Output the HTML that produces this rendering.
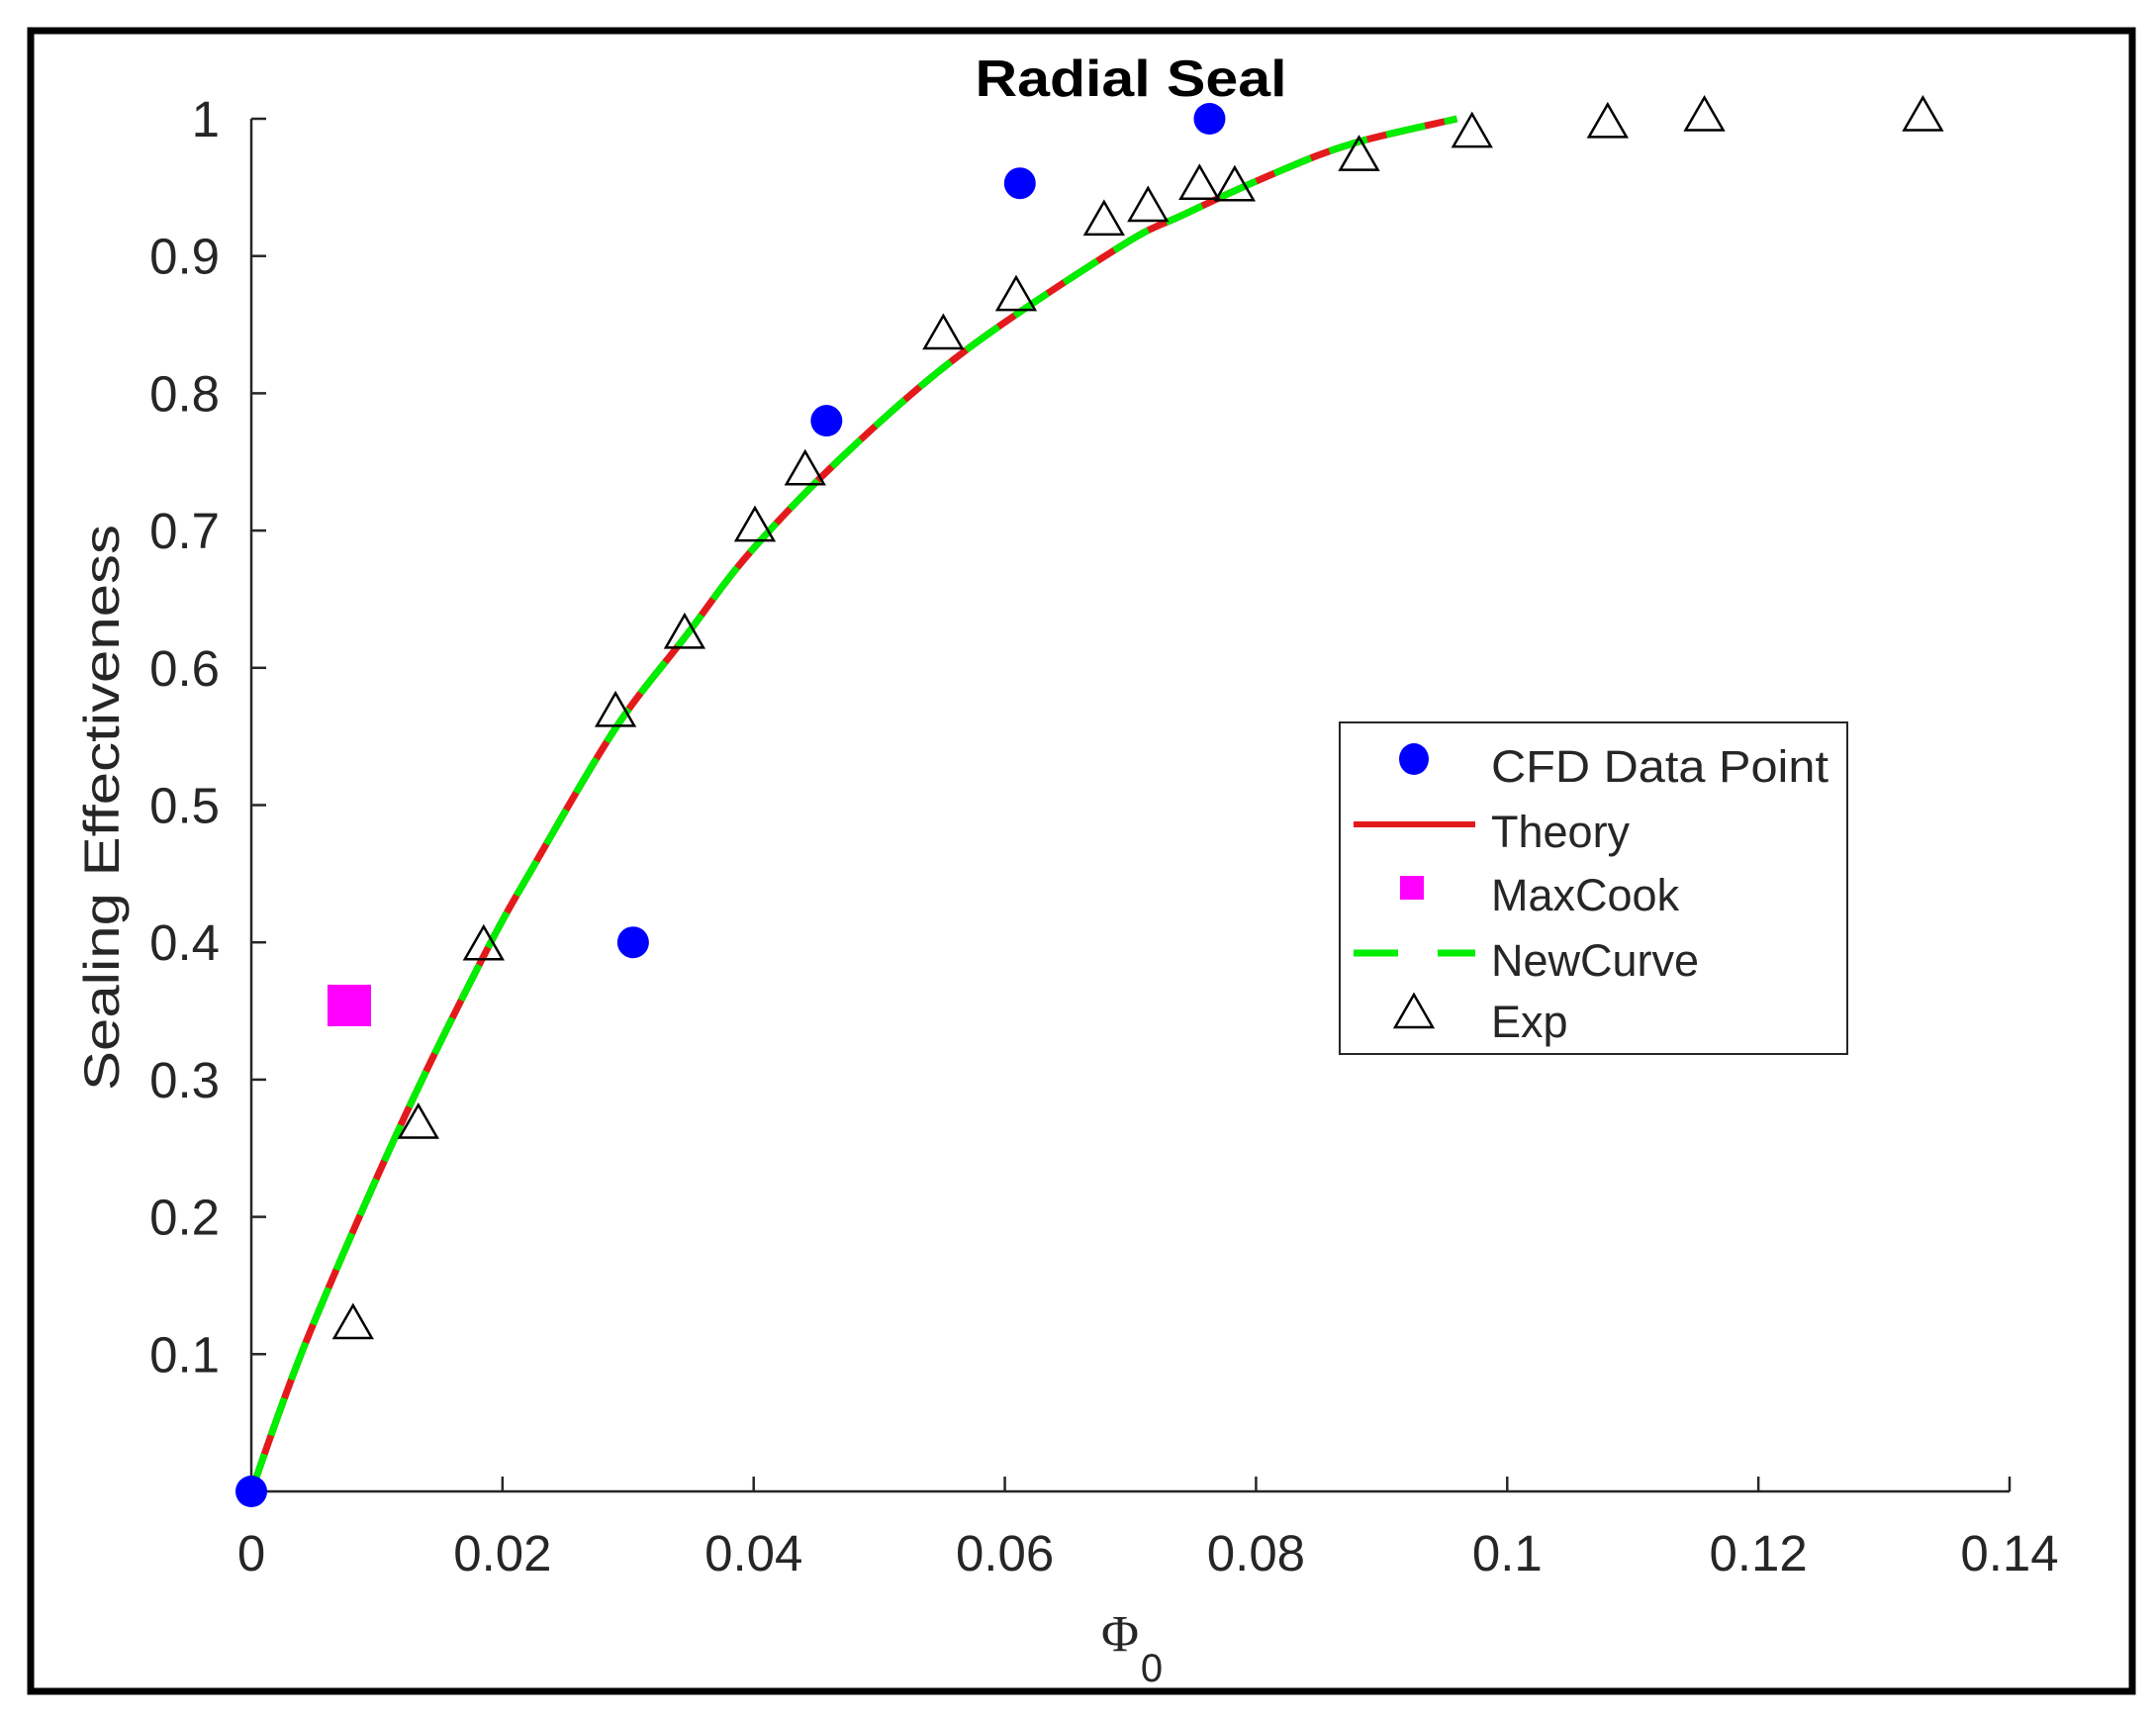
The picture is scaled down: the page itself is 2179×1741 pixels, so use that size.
<!DOCTYPE html>
<html><head><meta charset="utf-8"><style>
html,body{margin:0;padding:0;background:#fff}
svg{display:block}
text{font-family:"Liberation Sans",Arial,sans-serif;fill:#262626}
</style></head><body>
<svg id="chart" width="2179" height="1741" viewBox="0 0 2179 1741" xmlns="http://www.w3.org/2000/svg">
<rect x="0" y="0" width="2179" height="1741" fill="#fff"/>
<rect x="31" y="31" width="2124" height="1678" fill="none" stroke="#000" stroke-width="7"/>
<text x="1143" y="97" text-anchor="middle" font-size="52" font-weight="bold" style="fill:#000" textLength="315" lengthAdjust="spacingAndGlyphs">Radial Seal</text>
<g id="axes"></g>
<g id="marks"></g>
<text transform="translate(120,816) rotate(-90)" text-anchor="middle" font-size="50" textLength="572" lengthAdjust="spacingAndGlyphs">Sealing Effectiveness</text>
<g>
<text x="1132" y="1668" text-anchor="middle" font-size="52" style="font-family:'Liberation Serif',serif">Φ</text>
<text x="1164" y="1699" text-anchor="middle" font-size="40">0</text>
</g>
<g>
<rect x="1354" y="730" width="513" height="335" fill="#fff" stroke="#262626" stroke-width="2"/>
<g><ellipse cx="1429" cy="767" rx="15" ry="16" fill="#0000ff"/><text x="1507" y="790" font-size="45" textLength="341" lengthAdjust="spacingAndGlyphs">CFD Data Point</text></g>
<g><line x1="1368" y1="833" x2="1491" y2="833" stroke="#e31a1c" stroke-width="6"/><text x="1507" y="856" font-size="45">Theory</text></g>
<g><rect x="1415" y="885" width="24" height="24" fill="#ff00ff"/><text x="1507" y="920" font-size="45">MaxCook</text></g>
<g><line x1="1368" y1="963" x2="1491" y2="963" stroke="#00ee00" stroke-width="7" stroke-dasharray="45 40"/><text x="1507" y="986" font-size="45">NewCurve</text></g>
<g><polygon points="1429,1005 1410,1038 1448,1038" fill="none" stroke="#000" stroke-width="2.5"/><text x="1507" y="1048" font-size="45">Exp</text></g>
</g>
</svg>
<script>
const xTicks=[0,0.02,0.04,0.06,0.08,0.1,0.12,0.14];
const xTickLabels=["0","0.02","0.04","0.06","0.08","0.1","0.12","0.14"];
const yTicks=[0.1,0.2,0.3,0.4,0.5,0.6,0.7,0.8,0.9,1];
const yTickLabels=["0.1","0.2","0.3","0.4","0.5","0.6","0.7","0.8","0.9","1"];
const cfdX=[0,0.0304,0.0458,0.0612,0.0763];
const cfdY=[0,0.40,0.78,0.953,1.0];
const maxCookX=[0.0078];
const maxCookY=[0.354];
const theoryX=[0,0.0044,0.0118,0.0185,0.0227,0.029,0.0345,0.0397,0.0472,0.0567,0.0692,0.0742,0.0814,0.0877,0.096];
const theoryY=[0,0.11,0.265,0.39,0.459,0.556,0.622,0.684,0.755,0.83,0.907,0.93,0.96,0.982,1.0];
const expX=[0.0081,0.0133,0.0185,0.029,0.0345,0.0401,0.0441,0.0551,0.0609,0.0679,0.0714,0.0755,0.0783,0.0882,0.0972,0.108,0.1157,0.1331];
const expY=[0.124,0.27,0.40,0.57,0.627,0.705,0.746,0.845,0.873,0.928,0.938,0.954,0.953,0.975,0.992,0.999,1.004,1.004];

const X0=254,X1=2031,Y0=1507,Y1=120;
const xs=v=>X0+(v-0)/(0.14)*(X1-X0);
const ys=v=>Y0-(v-0)/(1)*(Y0-Y1);
const NS="http://www.w3.org/2000/svg";
function mk(tag,attrs,parent){const e=document.createElementNS(NS,tag);for(const k in attrs)e.setAttribute(k,attrs[k]);parent.appendChild(e);return e;}
const axes=document.getElementById('axes');
const marks=document.getElementById('marks');

const xAxis=mk('line',{x1:X0,y1:Y0,x2:X1,y2:Y0,stroke:'#262626','stroke-width':2.5},axes);


const yAxis=mk('line',{x1:X0,y1:Y0,x2:X0,y2:Y1,stroke:'#262626','stroke-width':2.5},axes);


xTicks.forEach((t,i)=>{
  const x=xs(t);
  const tk=mk('line',{x1:x,y1:Y0,x2:x,y2:Y0-15,stroke:'#262626','stroke-width':2.5},axes);
  
  
  const lb=mk('text',{x:x,y:1587,'text-anchor':'middle','font-size':51},axes);
  lb.textContent=xTickLabels[i];
  
  
});
yTicks.forEach((t,i)=>{
  const y=ys(t);
  const tk=mk('line',{x1:X0,y1:y,x2:X0+15,y2:y,stroke:'#262626','stroke-width':2.5},axes);
  
  
  const lb=mk('text',{x:222,y:y+18,'text-anchor':'end','font-size':51},axes);
  lb.textContent=yTickLabels[i];
  
  
});

function smoothPath(px,py){
  const p=px.map((v,i)=>[xs(v),ys(py[i])]);
  let d='M'+p[0][0]+','+p[0][1];
  for(let i=0;i<p.length-1;i++){
    const p0=p[i-1]||p[i],p1=p[i],p2=p[i+1],p3=p[i+2]||p2;
    const c1=[p1[0]+(p2[0]-p0[0])/6,p1[1]+(p2[1]-p0[1])/6];
    const c2=[p2[0]-(p3[0]-p1[0])/6,p2[1]-(p3[1]-p1[1])/6];
    d+=' C'+c1[0]+','+c1[1]+' '+c2[0]+','+c2[1]+' '+p2[0]+','+p2[1];
  }
  return d;
}
const dPath=smoothPath(theoryX,theoryY);
const theory=mk('path',{d:dPath,fill:'none',stroke:'#e31a1c','stroke-width':7},marks);


const newc=mk('path',{d:dPath,fill:'none',stroke:'#00ee00','stroke-width':7,'stroke-dasharray':'40 20'},marks);



expX.forEach((v,i)=>{
  const cx=xs(v),cy=ys(expY[i]);
  const t=mk('polygon',{points:`${cx},${cy-16} ${cx-19},${cy+17} ${cx+19},${cy+17}`,fill:'none',stroke:'#000','stroke-width':2.5},marks);
  
  
});
maxCookX.forEach((v,i)=>{
  const r=mk('rect',{x:xs(v)-22,y:ys(maxCookY[i])-21,width:44,height:42,fill:'#ff00ff'},marks);
  
  
});
cfdX.forEach((v,i)=>{
  const c=mk('ellipse',{cx:xs(v),cy:ys(cfdY[i]),rx:16,ry:16,fill:'#0000ff'},marks);
  
  
});
</script>
</body></html>
